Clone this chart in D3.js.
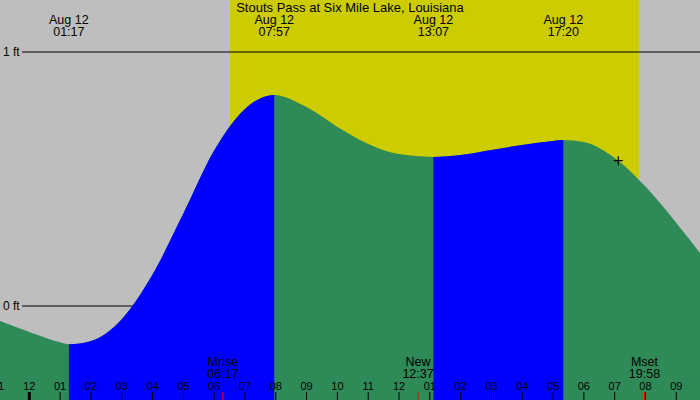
<!DOCTYPE html>
<html>
<head>
<meta charset="utf-8">
<script src="https://cdn.jsdelivr.net/npm/d3@7"></script>
<style>
  body { margin: 0; background: #fff; }
  svg text { font-family: "Liberation Sans", Arial, sans-serif; fill: #000; }
</style>
</head>
<body>
<div id="chart"></div>
<script>
// data (hours since midnight, Aug 12)
var tideHours = [-1, 0, 1, 1.283, 2, 3, 4, 5, 6, 7, 7.95, 9, 10, 11, 12, 13.117, 14, 15, 16, 17, 17.333, 18, 19, 20, 21, 22];
var tideFeet  = [-0.057, -0.102, -0.143, -0.151, -0.138, -0.052, 0.124, 0.364, 0.612, 0.776, 0.831, 0.783, 0.705, 0.638, 0.598, 0.587, 0.594, 0.614, 0.634, 0.650, 0.654, 0.646, 0.583, 0.470, 0.327, 0.173];

var extremeHours = [1.283, 7.95, 13.117, 17.333];
var extremeDates = ['Aug 12', 'Aug 12', 'Aug 12', 'Aug 12'];
var extremeTimes = ['01:17', '07:57', '13:07', '17:20'];
// rising intervals (low -> high)
var risingFrom = [1.283, 13.117];
var risingTo   = [7.95, 17.333];

var sunrise = 6.517, sunset = 19.783;

var eventNames = ['Mrise', 'New', 'Mset'];
var eventTimes = ['06:17', '12:37', '19:58'];
var eventHours = [6.283, 12.617, 19.967];

var hourTicks = d3.range(-1, 22);
var levelTicks = [0, 1];
var levelLabels = ['0 ft', '1 ft'];

var nowHour = 19.117, nowFeet = 0.572;
var title = 'Stouts Pass at Six Mile Lake, Louisiana';

// layout
const W = 700, H = 400;
var x = d3.scaleLinear().domain([0, 21]).range([29.3, 676.3]);
var y = d3.scaleLinear().domain([0, 1]).range([306, 52]);

var tide = tideHours.map((h, i) => ({h: h, v: tideFeet[i]}));

var svg = d3.select('#chart').append('svg')
            .attr('width', W)
            .attr('height', H);

// night background
svg.append('rect').attr('width', W).attr('height', H).attr('fill', '#bebebe');

// daylight
svg.append('rect')
   .attr('x', x(sunrise))
   .attr('width', x(sunset) - x(sunrise))
   .attr('y', 0)
   .attr('height', H)
   .attr('fill', '#cccc00');

// level lines (behind the water)
levelTicks.forEach(function (v, i) {
  svg.append('line')
     .attr('x1', 22).attr('x2', W)
     .attr('y1', y(v)).attr('y2', y(v))
     .attr('stroke', '#000').attr('stroke-width', 1);
  svg.append('text')
     .attr('x', 3)
     .attr('y', y(v))
     .attr('dy', '0.35em')
     .attr('font-size', 12)
     .text(levelLabels[i]);
});

var area = d3.area()
             .x(d => x(d.h))
             .y0(H)
             .y1(d => y(d.v))
             .curve(d3.curveMonotoneX);

// falling water, green
svg.append('path').datum(tide)
   .attr('d', area)
   .attr('fill', '#2e8b57');

// rising water, blue, clipped per interval
var defs = svg.append('defs');
risingFrom.forEach(function (h0, i) {
  defs.append('clipPath').attr('id', 'rise' + i)
      .append('rect')
      .attr('x', x(h0))
      .attr('width', x(risingTo[i]) - x(h0))
      .attr('y', 0)
      .attr('height', H);
  svg.append('path').datum(tide)
     .attr('d', area)
     .attr('fill', '#0000ff')
     .attr('clip-path', 'url(#rise' + i + ')');
});

// title
svg.append('text')
   .attr('x', W / 2)
   .attr('y', 12)
   .attr('text-anchor', 'middle')
   .attr('font-size', 13)
   .text(title);

// high / low labels
extremeHours.forEach(function (h, i) {
  svg.append('text')
     .attr('x', x(h)).attr('y', 24)
     .attr('text-anchor', 'middle')
     .attr('font-size', 12.5)
     .text(extremeDates[i]);
  svg.append('text')
     .attr('x', x(h)).attr('y', 36)
     .attr('text-anchor', 'middle')
     .attr('font-size', 12.5)
     .text(extremeTimes[i]);
});

// hour axis
var axis = svg.append('g');
hourTicks.forEach(function (h) {
  var hh = ((h % 12) + 12) % 12 || 12;
  axis.append('text')
      .attr('x', x(h)).attr('y', 390)
      .attr('text-anchor', 'middle')
      .attr('font-size', 11)
      .text(d3.format('02d')(hh));
  axis.append('line')
      .attr('x1', x(h)).attr('x2', x(h))
      .attr('y1', 392).attr('y2', H)
      .attr('stroke', '#000')
      .attr('stroke-width', h === 0 ? 3 : 1);
});

// moon events
eventHours.forEach(function (h, i) {
  svg.append('text')
     .attr('x', x(h)).attr('y', 366)
     .attr('text-anchor', 'middle')
     .attr('font-size', 12.5)
     .text(eventNames[i]);
  svg.append('text')
     .attr('x', x(h)).attr('y', 378)
     .attr('text-anchor', 'middle')
     .attr('font-size', 12.5)
     .text(eventTimes[i]);
  svg.append('line')
     .attr('x1', x(h)).attr('x2', x(h))
     .attr('y1', 392).attr('y2', H)
     .attr('stroke', '#ff0000').attr('stroke-width', 1);
});

// current time marker
svg.append('path')
   .attr('d', 'M' + (x(nowHour) - 4.5) + ',' + y(nowFeet) + 'h9M' + x(nowHour) + ',' + (y(nowFeet) - 4.5) + 'v9')
   .attr('stroke', '#000')
   .attr('stroke-width', 1.2)
   .attr('fill', 'none');
</script>
</body>
</html>
